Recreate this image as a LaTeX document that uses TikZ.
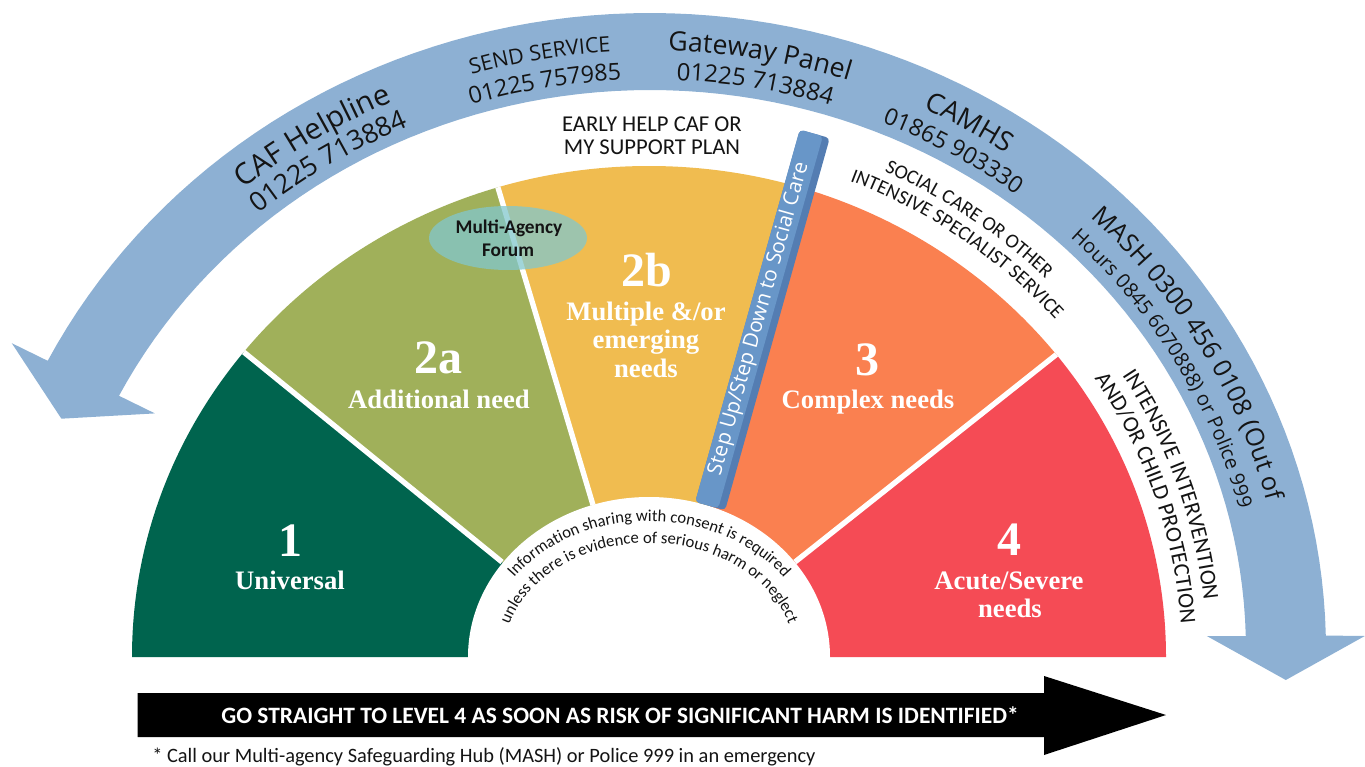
\documentclass[tikz,border=0pt]{standalone}
\usepackage{fontspec}
\setmainfont{Liberation Serif}
\newfontfamily\calfont{Carlito}
\newfontfamily\opfont{Open Sans}
\usetikzlibrary{decorations.text}
\definecolor{bandblue}{RGB}{141,176,211}
\definecolor{lvone}{RGB}{0,100,78}
\definecolor{lvtwoa}{RGB}{160,176,90}
\definecolor{lvtwob}{RGB}{240,188,80}
\definecolor{lvthree}{RGB}{250,128,80}
\definecolor{lvfour}{RGB}{245,75,85}
\definecolor{barblue}{RGB}{104,150,200}
\definecolor{bardark}{RGB}{84,125,178}
\definecolor{forumcol}{RGB}{130,200,205}
\definecolor{inkgrey}{RGB}{20,20,20}
\newcommand{\setfs}[1]{\fontsize{#1}{#1}\selectfont}
\tikzset{
  lvnum/.style={inner sep=0pt, text=white, font={\bfseries\setfs{36}}, anchor=base},
  lvname/.style={inner sep=0pt, text=white, font={\bfseries\setfs{20}}, anchor=base},
  sep/.style={white, line width=4pt},
  plain/.style={inner sep=0pt, text=inkgrey, font={\calfont\setfs{17}}, anchor=base},
  forumtext/.style={inner sep=0pt, text=inkgrey, font={\calfont\bfseries\setfs{14.5}}, anchor=base},
  stepbar/.style={fill=barblue, rounded corners=3pt, minimum width=290pt, minimum height=18pt, inner sep=0pt, rotate=74.3, text=white, font={\opfont\setfs{15.5}}},
  stepshade/.style={fill=bardark, rounded corners=3pt, minimum width=290pt, minimum height=23.25pt, inner sep=0pt, rotate=74.3},
  arctext/.style={decorate, decoration={text along path, text align=center, text={#1}}},
}

\begin{document}
\begin{tikzpicture}[x=0.75pt,y=-0.75pt]
    \useasboundingbox (0,0) rectangle (1365,767);
    \fill[white] (0,0) rectangle (1365,767);

    % curved blue arrow
    \fill[bandblue] (11.8,343.2) -- plot[domain=153:1.3,samples=90,variable=\t] ({650+676*cos(\t)},{650-637*sin(\t)})
        -- (1364.8,636) -- (1285.8,680) -- (1206.8,636)
        -- plot[domain=1.43:153,samples=90,variable=\t] ({650+596*cos(\t)},{650-560*sin(\t)})
        -- (154.9,413.4) -- (61.4,418.7) -- cycle;

    % the five levels
    \begin{scope}
        \clip (0,0) rectangle (1365,657);
        \clip (649,657) ellipse [x radius=517, y radius=491];
        \fill[lvone] (502,562) -- (91,228) -- (0,228) -- (0,657) -- (649,657) -- cycle;
        \fill[lvtwoa] (502,562) -- (91,228) -- (468,88) -- (593,505) -- (649,657) -- cycle;
        \fill[lvtwob] (593,505) -- (468,88) -- (854,-5) -- (711,503) -- (649,657) -- cycle;
        \fill[lvthree] (711,503) -- (854,-5) -- (1208,234) -- (795,562) -- (649,657) -- cycle;
        \fill[lvfour] (795,562) -- (1208,234) -- (1365,234) -- (1365,657) -- (649,657) -- cycle;
        \draw[sep] (502,562) -- (240,349);
        \draw[sep] (593,505) -- (496,181);
        \draw[sep] (795,562) -- (1057,354);
        \fill[white] (649,657) ellipse [x radius=181, y radius=160];
    \end{scope}

    % step up / step down bar
    \node[stepshade] (stepback) at (762.5,320) {};
    \node[stepbar] (stepbar) at (759,319) {Step Up/Step Down to Social Care};

    % multi-agency forum
    \fill[forumcol, opacity=.75] (508,238) ellipse [x radius=79, y radius=32];
    \node[forumtext] (forum1) at (509,233) {Multi-Agency};
    \node[forumtext] (forum2) at (508,256) {Forum};

    % level labels
    \node[lvnum] (one) at (290,556.5) {1};
    \node[lvname] (onename) at (290,589) {Universal};
    \node[lvnum] (twoa) at (438,373) {2a};
    \node[lvname] (twoaname) at (439,408) {Additional need};
    \node[lvnum] (twob) at (647,286) {2b};
    \node[lvname] (twobname1) at (646,320) {Multiple \&/or};
    \node[lvname] (twobname2) at (646,348) {emerging};
    \node[lvname] (twobname3) at (646,377) {needs};
    \node[lvnum] (three) at (867,375) {3};
    \node[lvname] (threename) at (868,408) {Complex needs};
    \node[lvnum] (four) at (1009,555) {4};
    \node[lvname] (fourname1) at (1009,589) {Acute/Severe};
    \node[lvname] (fourname2) at (1010,617) {needs};

    % services round the levels
    \node[plain] (early1) at (652,132) {EARLY HELP CAF OR};
    \node[plain] (early2) at (652,155) {MY SUPPORT PLAN};
    \path[arctext={|\calfont\setfs{15}\color{inkgrey}|SOCIAL CARE OR OTHER}] plot[domain=75:35,samples=60,variable=\t] ({649+561*cos(\t)},{657-535*sin(\t)});
    \path[arctext={|\calfont\setfs{15}\color{inkgrey}|INTENSIVE SPECIALIST SERVICE}] plot[domain=74.5:34.5,samples=60,variable=\t] ({649+539*cos(\t)},{657-513*sin(\t)});
    \path[arctext={|\calfont\setfs{17}\color{inkgrey}|INTENSIVE INTERVENTION}] plot[domain=39:-1,samples=60,variable=\t] ({649+558*cos(\t)},{657-532*sin(\t)});
    \path[arctext={|\calfont\setfs{17}\color{inkgrey}|AND/OR CHILD PROTECTION}] plot[domain=38.5:-1.5,samples=60,variable=\t] ({649+533*cos(\t)},{657-507*sin(\t)});

    % consent text
    \path[arctext={|\calfont\setfs{12.5}\color{inkgrey}|Information sharing with consent is required}] plot[domain=178:2,samples=80,variable=\t] ({649+166*cos(\t)},{657-136*sin(\t)});
    \path[arctext={|\calfont\setfs{12.5}\color{inkgrey}|unless there is evidence of serious harm or neglect}] plot[domain=178:2,samples=80,variable=\t] ({649+146*cos(\t)},{657-114*sin(\t)});

    % phone numbers on the arrow
    \path[arctext={|\opfont\setfs{22}\color{inkgrey}|CAF Helpline}] plot[domain=147:97,samples=60,variable=\t] ({650+637*cos(\t)},{650-599.5*sin(\t)});
    \path[arctext={|\opfont\setfs{20}\color{inkgrey}|01225 713884}] plot[domain=147:97,samples=60,variable=\t] ({650+608*cos(\t)},{650-570.5*sin(\t)});
    \path[arctext={|\opfont\setfs{16}\color{inkgrey}|SEND SERVICE}] plot[domain=125:75,samples=60,variable=\t] ({650+637*cos(\t)},{650-599.5*sin(\t)});
    \path[arctext={|\opfont\setfs{17.5}\color{inkgrey}|01225 757985}] plot[domain=125:75,samples=60,variable=\t] ({650+608*cos(\t)},{650-570.5*sin(\t)});
    \path[arctext={|\opfont\setfs{20}\color{inkgrey}|Gateway Panel}] plot[domain=105:55,samples=60,variable=\t] ({650+637*cos(\t)},{650-599.5*sin(\t)});
    \path[arctext={|\opfont\setfs{18}\color{inkgrey}|01225 713884}] plot[domain=105:55,samples=60,variable=\t] ({650+608*cos(\t)},{650-570.5*sin(\t)});
    \path[arctext={|\opfont\setfs{20.5}\color{inkgrey}|CAMHS}] plot[domain=85:35,samples=60,variable=\t] ({650+637*cos(\t)},{650-599.5*sin(\t)});
    \path[arctext={|\opfont\setfs{17.5}\color{inkgrey}|01865 903330}] plot[domain=85:35,samples=60,variable=\t] ({650+608*cos(\t)},{650-570.5*sin(\t)});
    \path[arctext={|\opfont\setfs{19}\color{inkgrey}|MASH 0300 456 0108 (Out of}] plot[domain=60:0,samples=80,variable=\t] ({650+637*cos(\t)},{650-599.5*sin(\t)});
    \path[arctext={|\opfont\setfs{15}\color{inkgrey}|Hours 0845 6070888) or Police 999}] plot[domain=60:0,samples=80,variable=\t] ({650+608*cos(\t)},{650-570.5*sin(\t)});

    % straight black arrow
    \fill[black] (137.5,693) -- (1044,693) -- (1044,676) -- (1166,715) -- (1044,755) -- (1044,737) -- (137.5,737) -- cycle;
    \node[inner sep=0pt, text=white, font={\calfont\bfseries\setfs{17.6}}] (level4) at (620,715) {GO STRAIGHT TO LEVEL 4 AS SOON AS RISK OF SIGNIFICANT HARM IS IDENTIFIED*};
    \node[inner sep=0pt, anchor=base west, text=inkgrey, font={\calfont\setfs{15.3}}] (note) at (152,762) {* Call our Multi-agency Safeguarding Hub (MASH) or Police 999 in an emergency};
\end{tikzpicture}
\end{document}
